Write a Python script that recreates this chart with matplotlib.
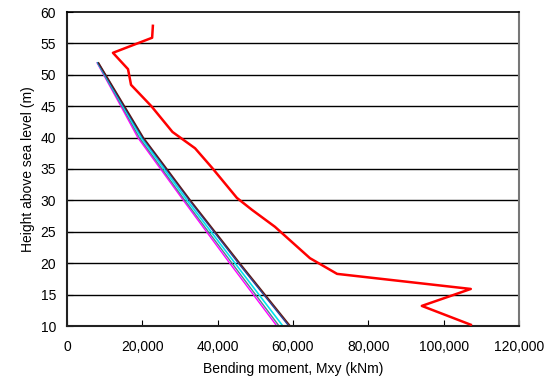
import numpy as np
import matplotlib
matplotlib.use('Agg')
import matplotlib.pyplot as plt
from matplotlib.ticker import FuncFormatter

# Red series (measured/extreme case)
red_h = [57.8, 55.9, 53.5, 50.9, 48.4, 45.0, 40.9, 38.3, 35.2, 30.4, 28.5, 25.8, 20.8, 18.3, 15.9, 13.2, 10.2]
red_m = [22800, 22600, 12200, 16200, 17000, 22400, 28000, 34000, 38500, 45100, 49100, 55200, 64500, 71700, 107200, 94200, 107200]

# Bundle of near-linear series
bund_h = [51.9, 45.0, 40.0, 30.0, 20.0, 10.0]
magenta_m = [8000, 14300, 18800, 30900, 43200, 55700]
teal_m = [8100, 14600, 19200, 31300, 43800, 56300]
cyan_m = [8200, 14900, 19700, 31900, 44600, 57300]
navy_m = [8300, 15100, 20100, 32500, 45500, 58900]
maroon_m = [8400, 15300, 20300, 32800, 45900, 59300]

plt.rcParams['font.family'] = ['Liberation Sans', 'DejaVu Sans']

fig = plt.figure(figsize=(5.57, 3.9), dpi=100)
ax = fig.add_axes([67/557, 1-326/390, 452/557, 314/390])

for yv in range(15, 60, 5):
    ax.axhline(yv, color='black', lw=1.0, zorder=1)

ax.plot(magenta_m, bund_h, color='#ff00ff', lw=1.0, zorder=2)
ax.plot(teal_m, bund_h, color='#4f7f8f', lw=1.0, zorder=2)
ax.plot(cyan_m, bund_h, color='#00e5ee', lw=1.2, zorder=2)
ax.plot(navy_m, bund_h, color='#1f3f9f', lw=1.0, zorder=2)
ax.plot(maroon_m, bund_h, color='#5a1a1a', lw=1.0, zorder=2)
ax.plot(red_m, red_h, color='#ff0000', lw=1.8, zorder=3)

ax.set_xlim(0, 120000)
ax.set_ylim(10, 60)
ax.set_xticks(np.arange(0, 120001, 20000))
ax.set_yticks(np.arange(10, 61, 5))
ax.xaxis.set_major_formatter(FuncFormatter(lambda v, p: '{:,.0f}'.format(v)))
ax.tick_params(axis='x', direction='in', length=4, labelsize=10, pad=10)
ax.tick_params(axis='y', direction='in', length=4, labelsize=10, pad=8)

for s in ['left', 'bottom']:
    ax.spines[s].set_linewidth(1.5)
    ax.spines[s].set_color('#222222')
ax.spines['top'].set_linewidth(1.2)
ax.spines['right'].set_color('#777777')
ax.spines['right'].set_linewidth(1.5)

ax.set_xlabel('Bending moment, Mxy (kNm)', fontsize=10, labelpad=6)
ax.set_ylabel('Height above sea level (m)', fontsize=10, labelpad=4)

fig.savefig('out.png', dpi=100)
